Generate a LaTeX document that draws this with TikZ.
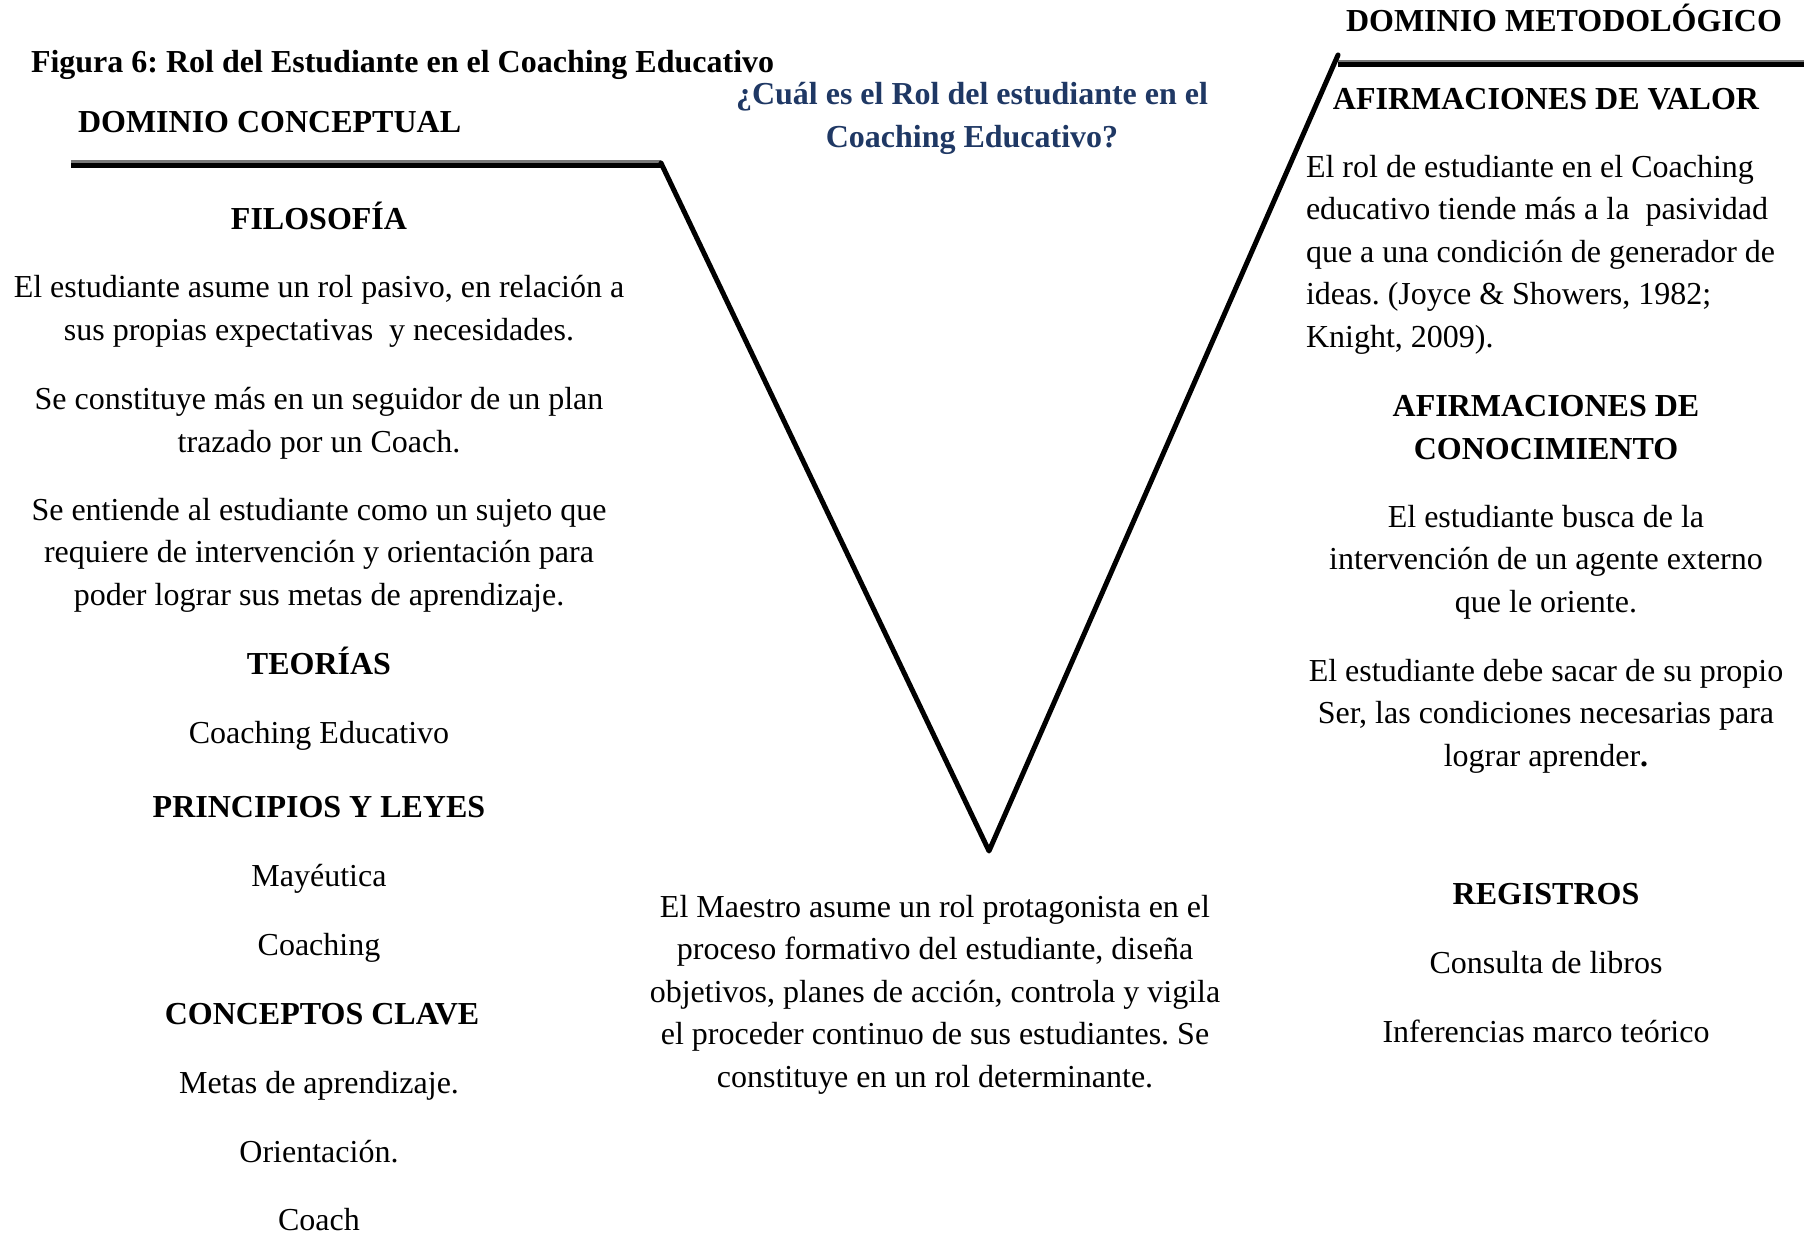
\documentclass[tikz,border=0pt]{standalone}
\usepackage{fontspec}
\setmainfont{Liberation Serif}
\definecolor{qblue}{RGB}{31,56,100}
\definecolor{lgray}{RGB}{120,120,120}
\begin{document}
\frenchspacing
\begin{tikzpicture}[x=1pt,y=-1pt,
  txt/.style={inner sep=0pt,outer sep=0pt,align=center,anchor=base,font=\fontsize{32}{42.5}\selectfont},
  txl/.style={inner sep=0pt,outer sep=0pt,align=left,anchor=base west,font=\fontsize{32}{42.5}\selectfont},
  hd/.style={txt,font=\fontsize{32}{42.5}\selectfont\bfseries},
  hdl/.style={txl,font=\fontsize{32}{42.5}\selectfont\bfseries},
  vline/.style={line width=5pt,line cap=round,line join=round,black},
  shade/.style={line width=3pt,lgray},
  bar/.style={line width=5.5pt,black}]
\useasboundingbox (0,0) rectangle (1804,1234);
% lines
\coordinate (L0) at (71,165.5);
\coordinate (L1) at (661,165.5);
\coordinate (V) at (989,851);
\coordinate (R1) at (1338,55);
\coordinate (R0) at (1804,64.5);
\draw[shade] (71,161.5) -- (661,161.5);
\draw[bar] (L0) -- (L1);
\draw[line width=2.5pt,lgray] (1338,61) -- (1804,61);
\draw[line width=4.5pt,black] (1338,64.5) -- (R0);
\draw[vline] (661,163) -- (V) -- (R1);
% titles (anchor base = last line baseline)
\node[hdl] (fig) at (31,72) {Figura 6: Rol del Estudiante en el Coaching Educativo};
\node[hdl] (dc) at (78,132) {DOMINIO CONCEPTUAL};
\node[hdl] (dm) at (1346,31) {DOMINIO METODOL\'OGICO};
\node[hd,text=qblue] (q) at (972,147) {¿Cuál es el Rol del estudiante en el\\Coaching Educativo?};
% left column
\node[hd] (fil) at (319,229) {FILOSOFÍA};
\node[txt] (f1) at (319,340) {El estudiante asume un rol pasivo, en relación a\\sus propias expectativas\ \ y necesidades.};
\node[txt] (f2) at (319,452) {Se constituye más en un seguidor de un plan\\trazado por un Coach.};
\node[txt] (f3) at (319,605) {Se entiende al estudiante como un sujeto que\\requiere de intervención y orientación para\\poder lograr sus metas de aprendizaje.};
\node[hd] (teo) at (319,674) {TEORÍAS};
\node[txt] (t1) at (319,743) {Coaching Educativo};
\node[hd] (pri) at (319,817) {PRINCIPIOS Y LEYES};
\node[txt] (p1) at (319,886) {Mayéutica};
\node[txt] (p2) at (319,955) {Coaching};
\node[hd] (con) at (322,1024) {CONCEPTOS CLAVE};
\node[txt] (c1) at (319,1093) {Metas de aprendizaje.};
\node[txt] (c2) at (319,1162) {Orientación.};
\node[txt] (c3) at (319,1230) {Coach};
% center bottom
\node[txt] (m) at (935,1087) {El Maestro asume un rol protagonista en el\\proceso formativo del estudiante, diseña\\objetivos, planes de acción, controla y vigila\\el proceder continuo de sus estudiantes. Se\\constituye en un rol determinante.};
% right column
\node[hd] (av) at (1546,109) {AFIRMACIONES DE VALOR};
\node[txl] (av1) at (1306,347) {El rol de estudiante en el Coaching\\educativo tiende más a la\ \ pasividad\\que a una condición de generador de\\ideas. (Joyce \& Showers, 1982;\\Knight, 2009).};
\node[hd] (ac) at (1546,459) {AFIRMACIONES DE\\CONOCIMIENTO};
\node[txt] (ac1) at (1546,612) {El estudiante busca de la\\intervención de un agente externo\\que le oriente.};
\node[txt] (ac2) at (1546,766) {El estudiante debe sacar de su propio\\Ser, las condiciones necesarias para\\lograr aprender\textbf{.}};
\node[hd] (reg) at (1546,904) {REGISTROS};
\node[txt] (r1) at (1546,973) {Consulta de libros};
\node[txt] (r2) at (1546,1042) {Inferencias marco teórico};
\end{tikzpicture}
\end{document}
